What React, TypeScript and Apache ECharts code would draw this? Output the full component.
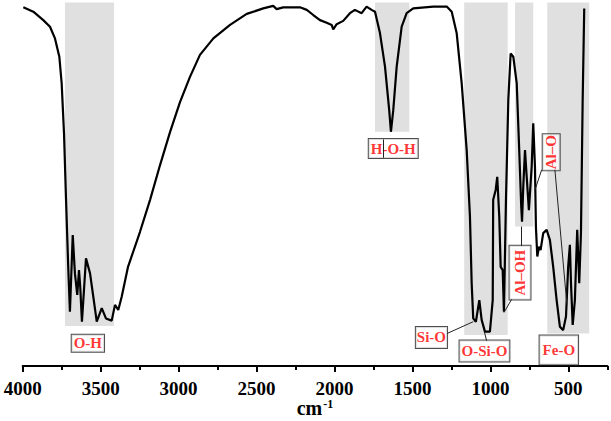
import React, { useEffect, useRef } from "react";
import * as echarts from "echarts";

const wavenumber = [3996,3932,3868,3825,3793,3765,3750,3735,3722,3708,3697,3679,3665,3650,3639,3631,3620,3594,3568,3547,3525,3493,3466,3429,3408,3387,3365,3325,3248,3183,3119,3055,2991,2927,2863,2777,2670,2563,2457,2393,2371,2329,2221,2178,2136,2093,2050,2018,2008,1986,1944,1901,1869,1826,1794,1762,1740,1708,1676,1649,1638,1623,1601,1569,1537,1495,1366,1280,1248,1216,1184,1152,1131,1120,1110,1093,1071,1056,1035,1003,985,982,966,956,943,934,921,913,900,885,870,853,831,815,802,797,789,778,767,753,735,725,714,708,699,688,678,661,639,618,597,575,554,533,515,501,490,483,472,458,443,430,419,408,398];
const transmittance = [98.0,96.8,94.5,92.7,89.5,84.5,77.2,63.6,45.4,27.1,14.8,35.8,25.3,19.4,26.2,21.7,12.1,29.4,25.3,18.9,12.1,15.8,13.0,12.4,16.7,15.3,18.9,27.0,36.6,45.4,54.9,63.9,72.1,79.0,85.0,89.5,93.2,96.2,97.7,98.4,97.5,98.0,98.0,97.3,95.9,94.5,93.8,93.2,92.0,93.4,94.3,96.4,97.3,96.4,98.2,97.3,96.8,90.9,81.8,69.9,64.0,69.9,81.8,92.7,96.4,97.7,98.2,98.2,96.8,90.9,77.2,59.0,40.8,22.6,13.0,12.1,18.0,12.6,9.4,9.4,18.0,45.4,48.1,51.7,40.8,27.1,26.2,14.8,45.4,72.7,85.4,84.5,77.2,59.0,43.5,39.4,49.0,59.0,51.7,42.6,54.5,66.3,54.5,38.1,29.9,32.6,31.7,36.3,37.2,34.4,27.1,18.0,10.7,9.8,13.5,27.1,33.1,22.7,11.2,18.0,37.2,22.6,36.3,72.7,97.7];

// shaded assignment bands
const bandFrom = [3729, 1740, 1168, 842, 635];
const bandTo = [3414, 1520, 889, 725, 366];
const bandBottom = [10.9, 64.0, 8.5, 38.1, 8.9];
const bandTop = 99.3;

// annotation labels
const labelNames = ["O-H", "H-O-H", "Si-O", "O-Si-O", "Al\u2013OH", "Al\u2013O", "Fe-O"];
const labelWave = [3582, 1623, 1378, 1038, 810, 610, 561];
const labelTrans = [6.2, 59.4, 7.8, 4.1, 25.5, 58.4, 4.4];
const labelRotate = [0, 0, 0, 0, 90, 90, 0];
const labelPad = [[1, 2], [2, 2], [3, 1], [3, 2], [3, 4], [1, 1], [7, 3]];

// leader lines [fromWave, fromTrans, toWave, toTrans]
const leaders = [
  [1277, 8.9, 1110, 12.1],
  [1024, 6.9, 1039, 9.4],
  [799, 38.1, 799, 32.8],
  [864, 18.2, 913, 14.6],
  [671, 53.6, 714, 48.1],
  [586, 53.6, 509, 16.7],
  [1689, 61.9, 1689, 56.9],
];

const majorTicks = [4000, 3500, 3000, 2500, 2000, 1500, 1000, 500];
const minorTicks = [3750, 3250, 2750, 2250, 1750, 1250, 750, 250];

const FONT = "'Liberation Serif', 'Times New Roman', serif";

export default function App() {
  const ref = useRef<HTMLDivElement>(null);
  useEffect(() => {
    if (!ref.current) return;
    const chart = echarts.init(ref.current, null, { renderer: "svg" });
    const axisBase = {
      type: "value" as const,
      min: 250,
      max: 4000,
      inverse: true,
      gridIndex: 0,
      splitLine: { show: false },
    };
    chart.setOption({
      animation: false,
      backgroundColor: "#ffffff",
      grid: { left: 22.7, right: 3.7, top: 0, bottom: 55, containLabel: false, outerBoundsMode: "none" },
      xAxis: [
        {
          ...axisBase,
          position: "bottom",
          axisLine: { show: true, lineStyle: { color: "#000", width: 2 } },
          axisTick: { show: true, inside: false, length: 6, lineStyle: { color: "#000", width: 2 }, customValues: majorTicks },
          axisLabel: {
            show: true,
            customValues: majorTicks,
            formatter: (v: number) => String(v),
            margin: 13,
            color: "#000",
            fontFamily: FONT,
            fontWeight: "bold",
            fontSize: 19,
            lineHeight: 19,
          },
          name: "{a|cm}{b|-1}",
          nameLocation: "middle",
          nameGap: 32,
          nameMoveOverlap: false,
          nameTextStyle: {
            rich: {
              a: { fontFamily: FONT, fontWeight: "bold", fontSize: 20, lineHeight: 20, color: "#000" },
              b: { fontFamily: FONT, fontWeight: "bold", fontSize: 12, lineHeight: 12, color: "#000", verticalAlign: "top", padding: [0, 0, 0, 1] },
            },
          },
        },
        {
          ...axisBase,
          position: "bottom",
          axisLine: { show: false },
          axisTick: { show: true, inside: false, length: 4, lineStyle: { color: "#000", width: 2 }, customValues: minorTicks },
          axisLabel: { show: false },
        },
      ],
      yAxis: { type: "value", min: 0, max: 100, show: false, splitLine: { show: false } },
      series: [
        {
          type: "line",
          data: [],
          z: 1,
          silent: true,
          markArea: {
            silent: true,
            itemStyle: { color: "#e0e0e0" },
            data: bandFrom.map((f, i) => [
              { xAxis: f, yAxis: bandTop },
              { xAxis: bandTo[i], yAxis: bandBottom[i] },
            ]),
          },
        },
        {
          type: "line",
          z: 2,
          silent: true,
          symbol: "none",
          lineStyle: { color: "#000", width: 2.2 },
          data: wavenumber.map((w, i) => [w, transmittance[i]]),
        },
        {
          type: "line",
          data: [],
          z: 3,
          silent: true,
          markLine: {
            silent: true,
            symbol: ["none", "none"],
            label: { show: false },
            lineStyle: { color: "#222", width: 1, type: "solid" },
            data: leaders.map((l) => [{ coord: [l[0], l[1]] }, { coord: [l[2], l[3]] }]),
          },
        },
        {
          type: "scatter",
          z: 4,
          silent: true,
          symbolSize: 1,
          itemStyle: { color: "rgba(0,0,0,0)" },
          data: labelNames.map((n, i) => ({
            name: n,
            value: [labelWave[i], labelTrans[i]],
            label: {
              show: true,
              position: "inside",
              formatter: n,
              rotate: labelRotate[i],
              padding: labelPad[i],
              color: "#ff0000",
              fontFamily: FONT,
              fontWeight: "bold",
              fontSize: 15,
              lineHeight: 15,
              backgroundColor: "#ffffff",
              borderColor: "#222",
              borderWidth: 1,
              borderRadius: 0,
            },
          })),
        },
      ],
    });
    return () => chart.dispose();
  }, []);
  return <div ref={ref} style={{ position: "fixed", left: 0, top: 0, width: 611, height: 421 }} />;
}
